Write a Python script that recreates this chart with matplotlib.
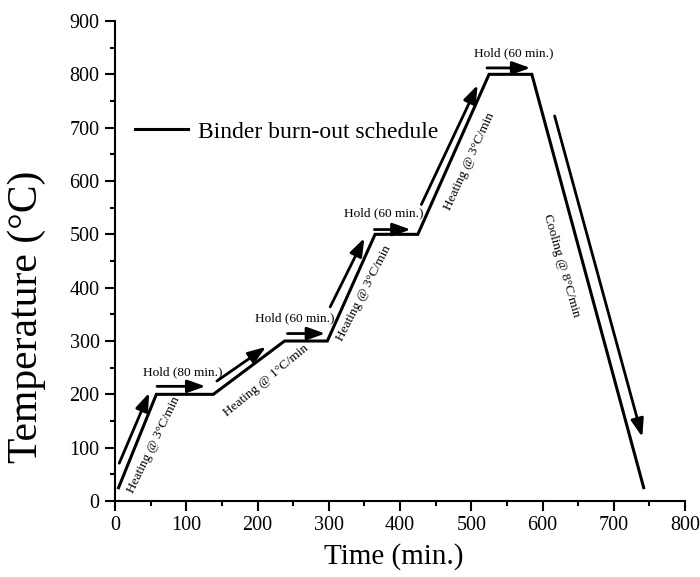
import matplotlib
matplotlib.use("Agg")
import matplotlib.pyplot as plt
from matplotlib.ticker import MultipleLocator

plt.rcParams["font.family"] = ["Liberation Serif", "DejaVu Serif"]

# Binder burn-out firing schedule (time in min, temperature in °C)
time_min = [5, 58, 138, 238, 298, 365, 425, 525, 585, 742]
temp_c = [25, 200, 200, 300, 300, 500, 500, 800, 800, 25]

# Direction arrows beside each segment: (x0, y0, x1, y1)
arrow_x0 = [6, 59, 143, 242, 302, 364, 430, 522, 617]
arrow_y0 = [71, 215, 225, 314, 364, 509, 556, 812, 722]
arrow_x1 = [48, 127, 212, 295, 350, 415, 509, 583, 740]
arrow_y1 = [203, 215, 289, 314, 493, 509, 780, 812, 120]

# Segment annotations
note_text = ["Heating @ 3°C/min", "Hold (80 min.)", "Heating @ 1°C/min",
             "Hold (60 min.)", "Heating @ 3°C/min", "Hold (60 min.)",
             "Heating @ 3°C/min", "Hold (60 min.)", "Cooling @ 8°C/min"]
note_x = [55, 95, 212, 252, 350, 377, 498, 560, 627]
note_y = [106, 242, 226, 343, 389, 539, 637, 840, 441]
note_rot = [64, 0, 39.5, 0, 62.7, 0, 65.4, 0, -74]

x_ticks = [0, 100, 200, 300, 400, 500, 600, 700, 800]
y_ticks = [0, 100, 200, 300, 400, 500, 600, 700, 800, 900]

fig = plt.figure(figsize=(7.0, 5.77), dpi=100)
ax = fig.add_axes([0.1643, 0.1317, 0.8143, 0.8319])

ax.plot(time_min, temp_c, color="black", lw=2.2, solid_joinstyle="miter",
        label="Binder burn-out schedule")

for x0, y0, x1, y1 in zip(arrow_x0, arrow_y0, arrow_x1, arrow_y1):
    ax.annotate("", xy=(x1, y1), xytext=(x0, y0),
                arrowprops=dict(arrowstyle="-|>,head_length=0.9,head_width=0.32",
                                color="black", lw=2.0, shrinkA=0, shrinkB=0,
                                mutation_scale=12))

for t, x, y, r in zip(note_text, note_x, note_y, note_rot):
    ax.text(x, y, t, fontsize=9.5, rotation=r, ha="center", va="center",
            rotation_mode="anchor")

ax.set_xlim(0, 800)
ax.set_ylim(0, 900)
ax.set_xticks(x_ticks)
ax.set_yticks(y_ticks)
ax.xaxis.set_minor_locator(MultipleLocator(50))
ax.yaxis.set_minor_locator(MultipleLocator(50))
ax.tick_params(which="major", direction="out", length=7, width=1.5,
               labelsize=14.5, pad=4)
ax.tick_params(which="minor", direction="out", length=3.5, width=1.5)

for side in ("top", "right"):
    ax.spines[side].set_visible(False)
for side in ("left", "bottom"):
    ax.spines[side].set_linewidth(1.5)

ax.set_xlabel("Time (min.)", fontsize=21)
ax.xaxis.set_label_coords(0.489, -0.115, transform=ax.transAxes)
ax.xaxis.label.set_va("center")
ax.set_ylabel("Temperature (°C)", fontsize=30)
ax.yaxis.set_label_coords(-0.154, 0.383, transform=ax.transAxes)
ax.yaxis.label.set_va("center")

ax.legend(loc="center left", bbox_to_anchor=(0.035, 0.769), frameon=False,
          fontsize=17, handlelength=2.25, handletextpad=0.42,
          borderpad=0, borderaxespad=0)

fig.savefig("out.png", dpi=100, facecolor="white")
